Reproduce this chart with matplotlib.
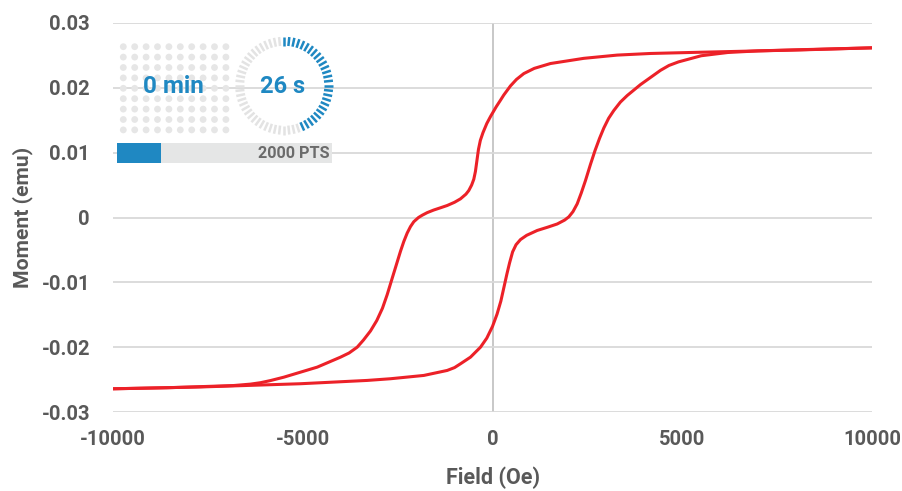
import matplotlib
matplotlib.use("Agg")
import matplotlib.pyplot as plt
from matplotlib.patches import Rectangle
import numpy as np

# ---------------- data ----------------
desc_field = [-10000, -8572, -6825, -6377, -6113, -5850, -5499, -4619, -4005, -3780,
              -3565, -3400, -3215, -3050, -2900, -2775, -2650, -2550, -2424, -2337,
              -2248, -2161, -2074, -1950, -1852, -1721, -1550, -1370, -1194, -1000,
              -843, -700, -625, -550, -493, -450, -410, -370, -320, -250,
              -150, -50, 0, 100, 211, 298, 474, 632, 825, 1100,
              1528, 2406, 3286, 4164, 5481, 6799, 8117, 10000]
desc_moment = [-0.02642, -0.02626, -0.02592, -0.02570, -0.02548, -0.02515, -0.02463, -0.02308, -0.02154, -0.02090,
               -0.02000, -0.01890, -0.01750, -0.01590, -0.01400, -0.01190, -0.00950, -0.00760, -0.00520, -0.00370,
               -0.00240, -0.00140, -0.00065, 0.00000, 0.00035, 0.00075, 0.00115, 0.00150, 0.00185, 0.00235,
               0.00288, 0.00360, 0.00416, 0.00500, 0.00590, 0.00710, 0.00880, 0.01050, 0.01190, 0.01310,
               0.01450, 0.01560, 0.01610, 0.01710, 0.01810, 0.01890, 0.02030, 0.02130, 0.02220, 0.02300,
               0.02375, 0.02455, 0.02505, 0.02530, 0.02549, 0.02567, 0.02585, 0.02617]

asc_field = [-10000, -7694, -5059, -3302, -2688, -1810, -1194, -1000, -843, -580,
             -316, -150, 0, 120, 220, 300, 380, 450, 530, 620,
             738, 900, 1178, 1450, 1705, 1900, 2011, 2120, 2232, 2340,
             2450, 2582, 2700, 2820, 2933, 3060, 3196, 3370, 3549, 3900,
             4427, 4650, 4900, 5500, 6200, 7000, 8117, 10000]
asc_moment = [-0.02642, -0.02614, -0.02564, -0.02513, -0.02487, -0.02436, -0.02359, -0.02315, -0.02256, -0.02154,
              -0.02000, -0.01860, -0.01680, -0.01490, -0.01290, -0.01080, -0.00870, -0.00700, -0.00530, -0.00420,
              -0.00340, -0.00275, -0.00200, -0.00150, -0.00100, -0.00040, 0.00010, 0.00090, 0.00211, 0.00380,
              0.00570, 0.00820, 0.01030, 0.01220, 0.01380, 0.01530, 0.01650, 0.01780, 0.01881, 0.02050,
              0.02270, 0.02345, 0.02400, 0.02495, 0.02545, 0.02570, 0.02588, 0.02617]

x_ticks = [-10000, -5000, 0, 5000, 10000]
y_ticks = [-0.03, -0.02, -0.01, 0, 0.01, 0.02, 0.03]
y_tick_labels = ["-0.03", "-0.02", "-0.01", "0", "0.01", "0.02", "0.03"]

elapsed_min = 0
elapsed_sec = 26
n_points = 2000
progress = 0.205

# ---------------- style ----------------
plt.rcParams["font.family"] = ["Roboto", "DejaVu Sans"]
plt.rcParams["font.weight"] = "bold"

TXT = "#595959"
BLUE = "#1f88c2"
RED = "#ec2128"

W, H = 902, 491
fig = plt.figure(figsize=(W / 100, H / 100), dpi=100)
ax = fig.add_axes([113 / W, 1 - 412 / H, (872 - 113) / W, (412 - 23) / H])

ax.plot(desc_field, desc_moment, color=RED, lw=2.2, solid_joinstyle="round", zorder=3)
ax.plot(asc_field, asc_moment, color=RED, lw=2.2, solid_joinstyle="round", zorder=3)

ax.set_xlim(-10000, 10000)
ax.set_ylim(-0.03, 0.03)
ax.set_xticks(x_ticks)
ax.set_xticklabels([str(v) for v in x_ticks])
ax.set_yticks(y_ticks)
ax.set_yticklabels(y_tick_labels)
for s in ax.spines.values():
    s.set_visible(False)
ax.grid(axis="y", color="#d9d9d9", lw=1.3, zorder=0)
ax.axvline(0, color="#c4c4c4", lw=1.3, zorder=1)
ax.tick_params(axis="both", length=0, labelsize=14.5, labelcolor=TXT)
ax.tick_params(axis="y", pad=16.5)
ax.tick_params(axis="x", pad=13)
for lab in ax.get_xticklabels() + ax.get_yticklabels():
    lab.set_fontweight("bold")

ax.set_xlabel("Field (Oe)", fontsize=15.5, fontweight="bold", color=TXT)
ax.set_ylabel("Moment (emu)", fontsize=15.2, fontweight="bold", color=TXT)
ax.xaxis.set_label_coords(0.5, (412 - 478) / 389)
ax.xaxis.label.set_va("center")
ax.yaxis.set_label_coords((22.5 - 113) / 759, 0.5)
ax.yaxis.label.set_va("center")

# ---------------- timer widget (pixel overlay) ----------------
ov = fig.add_axes([0, 0, 1, 1], zorder=5)
ov.set_xlim(0, W)
ov.set_ylim(H, 0)
ov.axis("off")
ov.patch.set_alpha(0)

cols = 123.3 + 11.4 * np.arange(10)
rows = 46.7 + 10.4 * np.arange(9)
gx, gy = np.meshgrid(cols, rows)
ov.scatter(gx.ravel(), gy.ravel(), s=24, color="#e6e6e6", edgecolors="none", zorder=1)
ov.text(173.7, 86.5, f"{elapsed_min} min", color=BLUE, fontsize=17.5, fontweight="bold",
        ha="center", va="center", zorder=3)

cx, cy, r_out, r_in = 284.2, 85.8, 49.0, 40.0
for i in range(60):
    th = np.deg2rad(90 - i * 6)
    col = BLUE if i <= elapsed_sec else "#e3e3e3"
    ov.plot([cx + r_in * np.cos(th), cx + r_out * np.cos(th)],
            [cy - r_in * np.sin(th), cy - r_out * np.sin(th)],
            color=col, lw=1.8, solid_capstyle="butt", zorder=2)
ov.text(cx - 1.5, 86.5, f"{elapsed_sec} s", color=BLUE, fontsize=17, fontweight="bold",
        ha="center", va="center", zorder=3)

bx0, bx1, by0, by1 = 116.7, 332.3, 142.7, 162.7
ov.add_patch(Rectangle((bx0, by0), bx1 - bx0, by1 - by0, facecolor="#e5e6e6", edgecolor="none", zorder=2))
ov.add_patch(Rectangle((bx0, by0), (bx1 - bx0) * progress, by1 - by0, facecolor=BLUE, edgecolor="none", zorder=3))
ov.text(330, 153, f"{n_points} PTS", color="#6b6b6b", fontsize=11.7, fontweight="bold",
        ha="right", va="center", zorder=4)

fig.savefig("out.png", dpi=100)
